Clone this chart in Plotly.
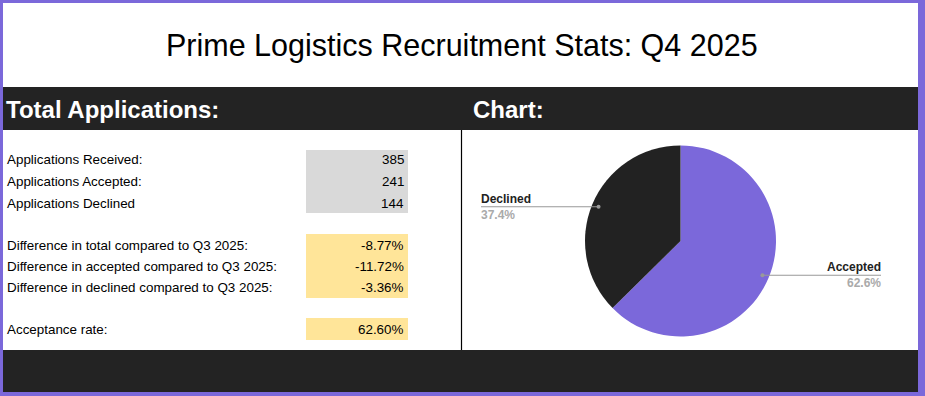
import math
import plotly.graph_objects as go

W, H = 925, 396

title_text = "Prime Logistics Recruitment Stats: Q4 2025"
left_header = "Total Applications:"
right_header = "Chart:"

count_labels = ["Applications Received:", "Applications Accepted:", "Applications Declined"]
count_values = [385, 241, 144]

diff_labels = ["Difference in total compared to Q3 2025:",
               "Difference in accepted compared to Q3 2025:",
               "Difference in declined compared to Q3 2025:"]
diff_values = [-8.77, -11.72, -3.36]

rate_label = "Acceptance rate:"
rate_value = 62.60

pie_labels = ["Accepted", "Declined"]
pie_values = [241, 144]
pie_colors = ["#7B68DA", "#222222"]

PURPLE = "#7B68DA"
DARK = "#232323"
GRAY_CELL = "#D9D9D9"
YELLOW_CELL = "#FFE599"
FONT = "Liberation Sans, Arial, sans-serif"


def px(x):
    return x / W


def py(y):
    return 1 - y / H


shapes = []
annotations = []


def rect(x0, y0, x1, y1, color):
    shapes.append(dict(type="rect", xref="paper", yref="paper",
                       x0=px(x0), x1=px(x1), y0=py(y1), y1=py(y0),
                       fillcolor=color, line=dict(width=0), layer="below"))


def text(x, y, s, size=13, color="#000", bold=False, xanchor="left"):
    if bold:
        s = "<b>" + s + "</b>"
    annotations.append(dict(xref="paper", yref="paper", x=px(x), y=py(y), text=s,
                            showarrow=False, xanchor=xanchor, yanchor="middle",
                            font=dict(family=FONT, size=size, color=color)))


# purple frame
rect(0, 0, W, H, PURPLE)
rect(3, 3, 918, 392, "white")
# header band & footer band
rect(3, 87, 918, 130, DARK)
rect(3, 350, 918, 392, DARK)
# divider
shapes.append(dict(type="line", xref="paper", yref="paper", x0=px(461.5), x1=px(461.5),
                   y0=py(350), y1=py(130), line=dict(color="#000", width=1.2)))

text(461.5, 45, title_text, size=30.5, xanchor="center")
text(4, 109, left_header, size=24, color="white", bold=True)
text(471, 109, right_header, size=24, color="white", bold=True)

# count block
rect(306, 150, 408, 213, GRAY_CELL)
row_y = [160, 182, 203]
for lab, val, y in zip(count_labels, count_values, row_y):
    text(5, y, lab, size=13.4)
    text(406, y, f"{val}", size=13.4, xanchor="right")

# diff block
rect(306, 234, 408, 298, YELLOW_CELL)
row_y2 = [245, 266, 287]
for lab, val, y in zip(diff_labels, diff_values, row_y2):
    text(5, y, lab, size=13.4)
    text(406, y, f"{val:.2f}%", size=13.4, xanchor="right")

rect(306, 318, 408, 340, YELLOW_CELL)
text(5, 329, rate_label, size=13.4)
text(406, 329, f"{rate_value:.2f}%", size=13.4, xanchor="right")

# pie
cx, cy, R = 680.5, 241, 95.5
fig = go.Figure(go.Pie(
    labels=pie_labels, values=pie_values, sort=False, direction="clockwise",
    rotation=0, marker=dict(colors=pie_colors, line=dict(width=0)),
    textinfo="none", hoverinfo="label+percent", showlegend=False,
    domain=dict(x=[px(cx - R), px(cx + R)], y=[py(cy + R), py(cy - R)]),
))

# leader lines computed from slice angles
total = sum(pie_values)
start = 0.0
for lab, val in zip(pie_labels, pie_values):
    frac = val / total
    mid = (start + frac / 2) * 2 * math.pi
    start += frac
    dx, dy = math.sin(mid), -math.cos(mid)
    dot_x, dot_y = cx + dx * R * 0.93, cy + dy * R * 0.93
    if dx >= 0:
        end_x = 881
        anchor = "right"
        lx = end_x + 2
    else:
        end_x = 481
        anchor = "left"
        lx = end_x - 2
    shapes.append(dict(type="line", xref="paper", yref="paper",
                       x0=px(dot_x), x1=px(end_x), y0=py(dot_y), y1=py(dot_y),
                       line=dict(color="#999999", width=1.2)))
    shapes.append(dict(type="circle", xref="paper", yref="paper",
                       x0=px(dot_x - 2), x1=px(dot_x + 2), y0=py(dot_y + 2), y1=py(dot_y - 2),
                       fillcolor="#999999", line=dict(width=0)))
    text(lx, dot_y - 8, lab, size=12, color="#222", bold=True, xanchor=anchor)
    text(lx, dot_y + 8, f"{frac*100:.1f}%", size=12, color="#AAAAAA", bold=True, xanchor=anchor)

fig.update_layout(width=W, height=H, margin=dict(l=0, r=0, t=0, b=0),
                  paper_bgcolor="white", plot_bgcolor="white",
                  shapes=shapes, annotations=annotations)

fig.write_html("out.html", config=dict(displayModeBar=False),
               post_script="document.body.style.margin='0';document.body.style.padding='0';"
                           "document.documentElement.style.overflow='hidden';")
